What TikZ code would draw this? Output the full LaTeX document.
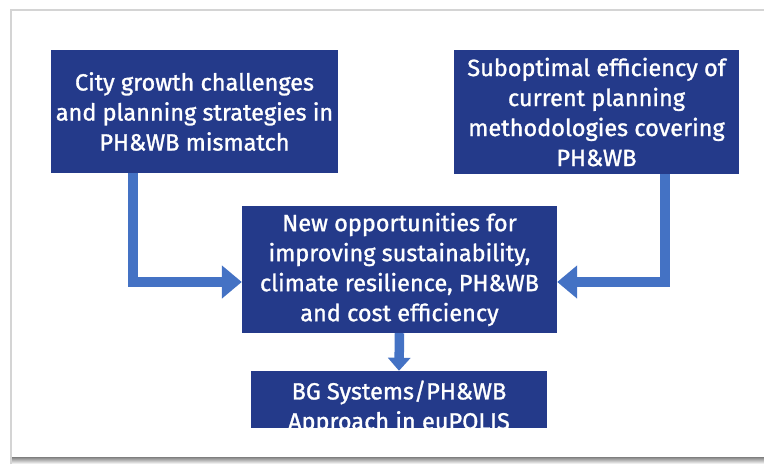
\documentclass[tikz,border=0pt]{standalone}
\usepackage{fontspec}
\setmainfont{Fira Sans}[FakeBold=1.2]
\usepackage{tikz}
\usetikzlibrary{arrows.meta,calc}
\definecolor{navy}{HTML}{243A8A}
\definecolor{flowc}{HTML}{4472C4}
\definecolor{frame}{HTML}{D4D4D4}
\definecolor{shade}{HTML}{EEEEEE}
\tikzset{
  blk/.style={draw=none, fill=navy, text=white, align=center,
              font=\fontsize{23.5}{30}\selectfont, inner sep=0pt},
  flow/.style={draw=flowc, line width=9.5pt,
               -{Triangle[length=20pt, width=32pt]}},
}

\begin{document}
\begin{tikzpicture}[x=1pt, y=-1pt]
\useasboundingbox (0,0) rectangle (764,464);
% page frame
\fill[shade] (11,457) rectangle (764,464);
\draw[frame, line width=1.4pt] (11,464) -- (11,10) -- (770,10);

\node[blk, minimum width=287pt, minimum height=123pt] (city) at (194.5,111.5)
  {City growth challenges\\and planning strategies in\\PH\&WB mismatch};
\node[blk, minimum width=285pt, minimum height=124pt] (subopt) at (596.5,112)
  {Suboptimal efficiency of\\current planning\\methodologies covering\\PH\&WB};
\node[blk, minimum width=315pt, minimum height=127pt] (opps) at (399.5,269.5)
  {New opportunities for\\improving sustainability,\\climate resilience, PH\&WB\\and cost efficiency};
\node[blk, minimum width=296pt, minimum height=57pt] (bgsys) at (399,399.5) {};
\begin{scope}
  \clip (bgsys.south west) rectangle (bgsys.north east);
  \node[blk, fill=none] (bgtext) at ([yshift=-8pt]bgsys.center)
    {BG Systems/PH\&WB\\Approach in euPOLIS};
\end{scope}

\draw[flow] ($(city.south west)+(82,0)$) |- ([yshift=-12.5pt]opps.west);
\draw[flow] ($(subopt.south west)+(211,0)$) |- ([yshift=-12.5pt]opps.east);
\draw[flow, -{Triangle[length=13pt, width=22pt]}] (opps.south) -- (bgsys.north);
\end{tikzpicture}
\end{document}
